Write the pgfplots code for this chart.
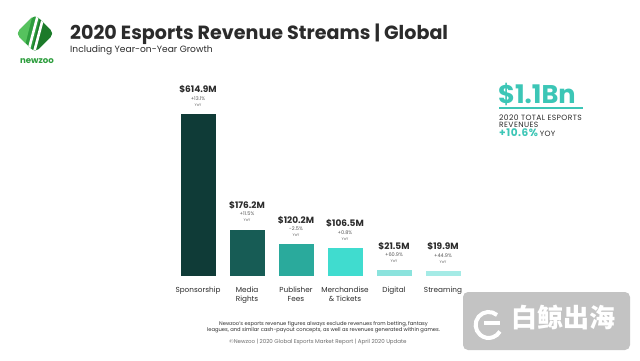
\documentclass[border=0pt]{standalone}
\usepackage{pgfplots}
\pgfplotsset{compat=1.18}
\usepackage{fontspec}
\setmainfont{Poppins}
\newfontfamily\spaced[LetterSpace=5]{Poppins}
\newfontfamily\cjk{Noto Sans CJK SC}
\definecolor{c1}{HTML}{0F3B37}
\definecolor{c2}{HTML}{175C55}
\definecolor{c3}{HTML}{2AAA9C}
\definecolor{c4}{HTML}{40DCCF}
\definecolor{c5}{HTML}{8BE3DD}
\definecolor{c6}{HTML}{A5EBE6}
\definecolor{teal1}{HTML}{3CC6B6}
\definecolor{txt}{HTML}{2B2B2B}
\definecolor{nzgreen}{HTML}{2E9E3E}
\definecolor{nzdark}{HTML}{1C7A2A}
\definecolor{nzlight}{HTML}{56C25E}
\newcommand{\barlab}[3]{%
  \node[font=\bfseries\fontsize{9}{10}\selectfont, text=txt, inner sep=0] at (axis cs:#1,#2) [yshift=24.5pt] {\$#2M};
  \node[font=\fontsize{5}{6}\selectfont, text=txt!80, inner sep=0] at (axis cs:#1,#2) [yshift=15.5pt] {#3};
  \node[font=\fontsize{3.8}{4}\selectfont, text=txt!70, inner sep=0] at (axis cs:#1,#2) [yshift=9pt] {YoY};}
\begin{document}
\begin{tikzpicture}[x=1pt,y=1pt]
\useasboundingbox (0,0) rectangle (640,360);
\fill[white] (0,0) rectangle (640,360);
% logo
\begin{scope}[shift={(35,326.5)}]
\begin{scope}
\clip[rounded corners=5pt, rotate=45] (-13.5,-13.5) rectangle (13.5,13.5);
\fill[nzgreen] (-20,-20) rectangle (20,20);
\fill[nzlight] (-20,20) -- (-2,20) -- (-12,-20) -- (-20,-20) -- cycle;
\fill[nzdark] (6,20) -- (20,20) -- (20,-20) -- (-4,-20) -- cycle;
\draw[white, line width=2.6pt] (3,19) -- (-7,-19);
\draw[white, line width=2.6pt] (9,19) -- (-1,-19);
\end{scope}
\end{scope}
\node[font=\bfseries\fontsize{8.6}{10}\selectfont, text=nzgreen] at (37,299) {newzoo};
% title
\node[anchor=base west, font=\bfseries\fontsize{19.1}{20}\selectfont, text=txt, inner sep=0] at (70,320.5) {2020 Esports Revenue Streams | Global};
\node[anchor=base west, font=\fontsize{9.1}{10}\selectfont, text=txt, inner sep=0] at (70,307.5) {Including Year-on-Year Growth};
% right block
\node[anchor=base west, font=\bfseries\fontsize{25.6}{27}\selectfont, text=teal1, inner sep=0] at (498,257) {\$1.1Bn};
\draw[teal1, line width=1.5pt] (499,252) -- (583,252);
\node[anchor=base west, font=\spaced\fontsize{7.6}{8}\selectfont, text=txt, inner sep=0] at (499,239.5) {2020 TOTAL ESPORTS};
\node[anchor=base west, font=\spaced\fontsize{7.6}{8}\selectfont, text=txt, inner sep=0] at (499,232.5) {REVENUES};
\node[anchor=base west, font=\spaced\bfseries\fontsize{10.5}{11}\selectfont, text=teal1, inner sep=0] at (499,224) {+10.6\%\,{\mdseries\color{txt}\fontsize{7.6}{8}\selectfont YOY}};
% chart
\begin{axis}[
  at={(173.5pt,84pt)}, anchor=south west,
  x=49pt, y=0.2635pt,
  xmin=-0.5, xmax=5.5, ymin=0, ymax=700,
  clip=false,
  axis line style={draw=none},
  tick style={draw=none},
  ytick=\empty,
  xtick={0,1,2,3,4,5},
  xticklabels={Sponsorship, Media\\Rights, Publisher\\Fees, Merchandise\\\& Tickets, Digital, Streaming},
  xticklabel style={font=\fontsize{7.3}{9}\selectfont, text=txt, align=center, anchor=north, yshift=-7pt},
]
\addplot[ybar, bar width=35pt, fill=c1, draw=none] coordinates {(0,614.9)};
\addplot[ybar, bar width=35pt, fill=c2, draw=none] coordinates {(1,176.2)};
\addplot[ybar, bar width=35pt, fill=c3, draw=none] coordinates {(2,120.2)};
\addplot[ybar, bar width=35pt, fill=c4, draw=none] coordinates {(3,106.5)};
\addplot[ybar, bar width=35pt, fill=c5, draw=none] coordinates {(4,21.5)};
\addplot[ybar, bar width=35pt, fill=c6, draw=none] coordinates {(5,19.9)};
\barlab{0}{614.9}{+13.1\%}
\barlab{1}{176.2}{+11.5\%}
\barlab{2}{120.2}{-2.5\%}
\barlab{3}{106.5}{+0.8\%}
\barlab{4}{21.5}{+60.9\%}
\barlab{5}{19.9}{+44.9\%}
\end{axis}
% footnotes
\node[font=\fontsize{5.2}{6.5}\selectfont, text=txt, align=center] at (323.5,33) {Newzoo's esports revenue figures always exclude revenues from betting, fantasy\\leagues, and similar cash-payout concepts, as well as revenues generated within games.};
\node[font=\fontsize{5.5}{6}\selectfont, text=txt!70] at (318,18) {\textcopyright Newzoo | 2020 Global Esports Market Report | April 2020 Update};
% watermark
\fill[gray!55, opacity=0.85, rounded corners=5pt] (463,10) rectangle (630,68);
\draw[white, line width=4pt] (497,45) arc (50:330:13);
\draw[white, line width=4pt] (484,37) -- (500,37);
\node[font=\cjk\bfseries\fontsize{26}{28}\selectfont, text=white, anchor=west, inner sep=0] at (511,43) {白鲸出海};
\end{tikzpicture}
\end{document}
